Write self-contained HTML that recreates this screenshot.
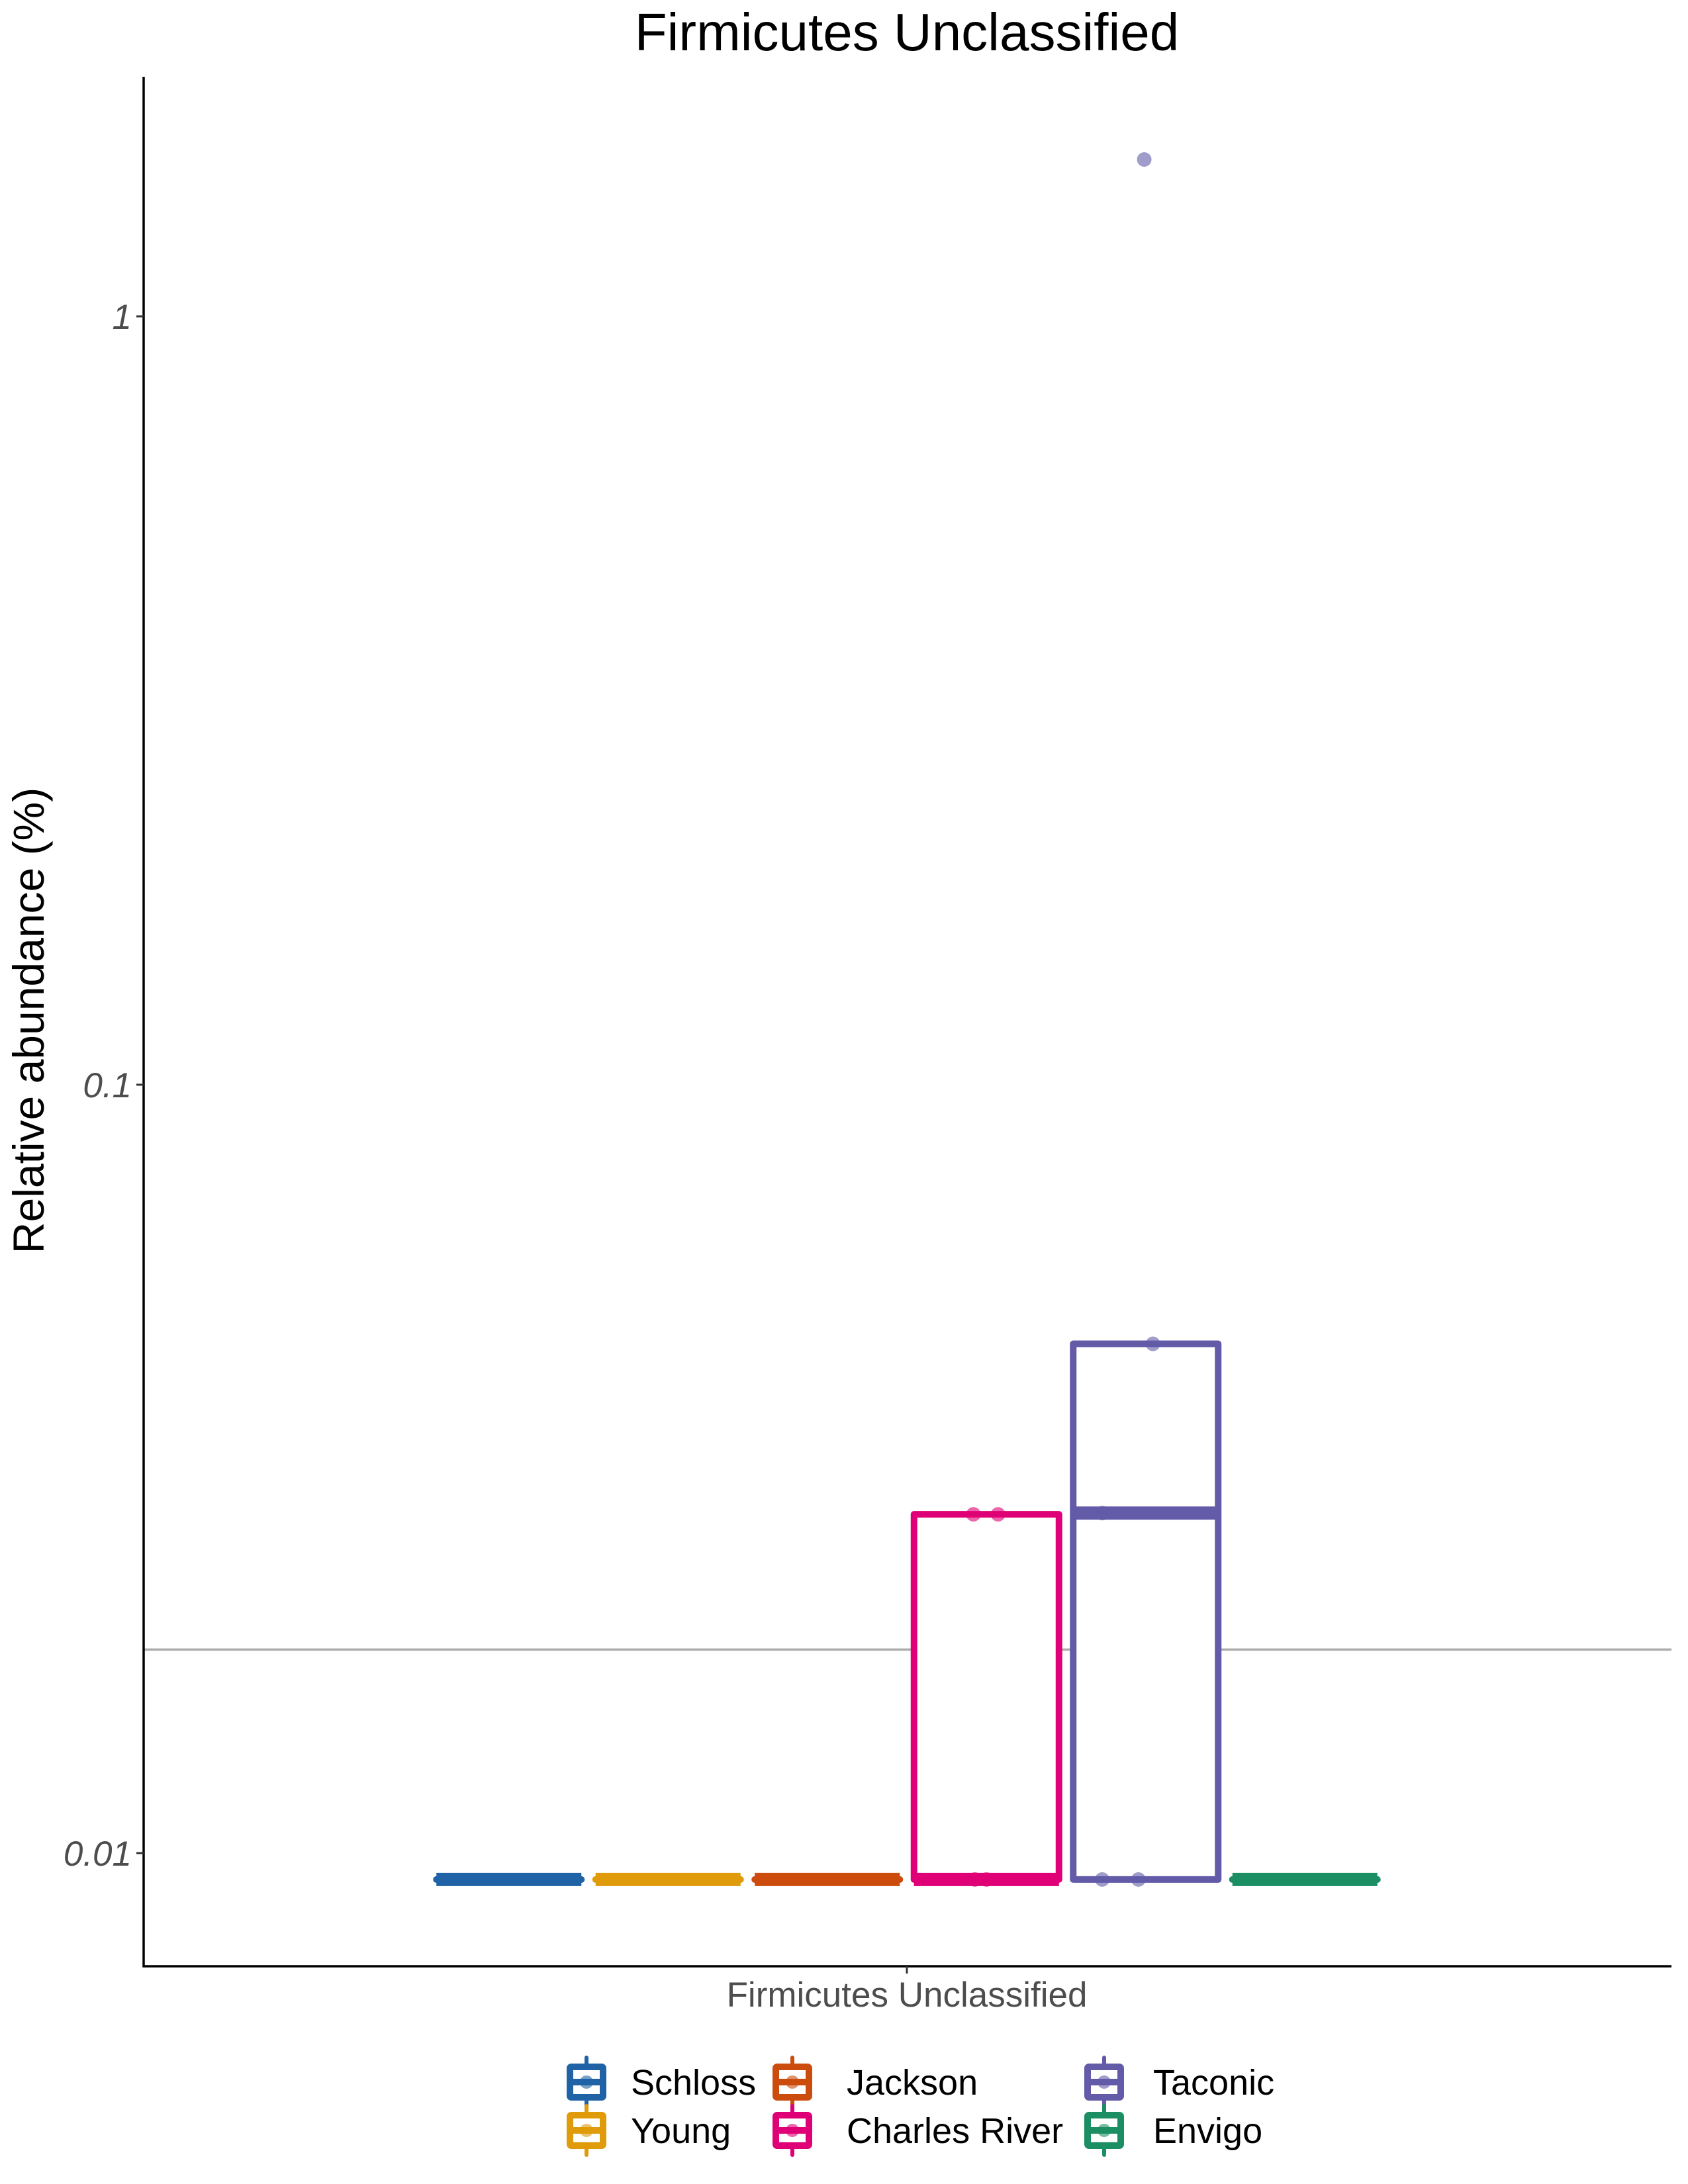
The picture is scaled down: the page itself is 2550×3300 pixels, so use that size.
<!DOCTYPE html>
<html><head><meta charset="utf-8"><style>
html,body{margin:0;padding:0;background:#fff}
svg{display:block}
text{font-family:"Liberation Sans",Arial,sans-serif}
</style></head><body>
<svg id="chart" width="2550" height="3300" viewBox="0 0 2550 3300" xmlns="http://www.w3.org/2000/svg">
<rect width="2550" height="3300" fill="#fff"/>
<text x="1370" y="76" font-size="80" text-anchor="middle" fill="#000">Firmicutes Unclassified</text>
<text transform="translate(66,1542) rotate(-90)" font-size="66" text-anchor="middle" fill="#000">Relative abundance (%)</text>
<g id="plot"></g>
<g id="legend"></g>
</svg>
<script>
const groups = ["Schloss","Young","Jackson","Charles River","Taconic","Envigo"];
const colors = ["#1F63A6","#E09B0B","#CC4C0E","#DF0077","#635BA8","#1C8E63"];
const q1 = [0.00924,0.00924,0.00924,0.00924,0.00924,0.00924];
const medians = [0.00924,0.00924,0.00924,0.00924,0.0277,0.00924];
const q3 = [0.00924,0.00924,0.00924,0.0276,0.046,0.00924];
const ptGroup = [3,3,3,3,4,4,4,4,4];
const ptValue = [0.0276,0.0276,0.00924,0.00924,1.6,0.046,0.0277,0.00924,0.00924];
const ptJitter = [-0.09,0.08,-0.08,0.0,-0.01,0.05,-0.3,-0.3,-0.05];
const yTicks = [0.01,0.1,1];
const yTickLabels = ["0.01","0.1","1"];
const refLine = 0.0184;

(function(){
const NS="http://www.w3.org/2000/svg";
const plot=document.getElementById('plot');
const legend=document.getElementById('legend');
function mk(tag,attrs,parent){const e=document.createElementNS(NS,tag);for(const k in attrs)e.setAttribute(k,attrs[k]);parent.appendChild(e);return e;}
const yS=v=>2800-(Math.log10(v)+2)*1161;
const step=240.5, xc=i=>1370+(i-2.5)*step, bw=219;
const pLeft=217,pRight=2525,pTop=116,pBottom=2971;

let e=mk('line',{x1:pLeft,x2:pRight,y1:yS(refLine),y2:yS(refLine),stroke:'#aaaaaa','stroke-width':3.5},plot);



groups.forEach((g,i)=>{
  const x0=xc(i)-bw/2;
  const b=mk('rect',{x:x0,y:yS(q3[i]),width:bw,height:Math.max(0.1,yS(q1[i])-yS(q3[i])),fill:'#fff',stroke:colors[i],'stroke-width':10,'stroke-linejoin':'round'},plot);
  
  
  const m=mk('line',{x1:x0,x2:x0+bw,y1:yS(medians[i]),y2:yS(medians[i]),stroke:colors[i],'stroke-width':20},plot);
  
  
});
ptValue.forEach((v,k)=>{
  const gi=ptGroup[k];
  const c=mk('circle',{cx:xc(gi)+ptJitter[k]*bw,cy:yS(v),r:11,fill:colors[gi],'fill-opacity':0.6},plot);
  
  
});

e=mk('line',{x1:pLeft,x2:pLeft,y1:pTop,y2:pBottom+1.5,stroke:'#000','stroke-width':3.5},plot);


e=mk('line',{x1:pLeft-1.5,x2:pRight,y1:pBottom,y2:pBottom,stroke:'#000','stroke-width':3.5},plot);


yTicks.forEach((t,k)=>{
  const l=mk('line',{x1:pLeft-11,x2:pLeft,y1:yS(t),y2:yS(t),stroke:'#333','stroke-width':3},plot);
  
  
  const tx=mk('text',{x:pLeft-18,y:yS(t)+19,'font-size':53,'font-style':'italic','text-anchor':'end',fill:'#4d4d4d'},plot);
  tx.textContent=yTickLabels[k];
  
  
});
e=mk('line',{x1:1370,x2:1370,y1:pBottom,y2:pBottom+11,stroke:'#333','stroke-width':3},plot);


e=mk('text',{x:1370,y:3032,'font-size':53,'text-anchor':'middle',fill:'#4d4d4d'},plot);
e.textContent='Firmicutes Unclassified';



const keyX=[886,886,1197,1197,1668,1668], keyY=[3146,3219,3146,3219,3146,3219], txtX=[953,953,1279,1279,1742,1742];
groups.forEach((g,i)=>{
  const gg=mk('g',{},legend);
  
  
  const cx=keyX[i], cy=keyY[i];
  mk('line',{x1:cx,x2:cx,y1:cy-37,y2:cy+37,stroke:colors[i],'stroke-width':6,'stroke-linecap':'round'},gg);
  mk('rect',{x:cx-25,y:cy-23,width:50,height:46,fill:'#fff',stroke:colors[i],'stroke-width':10,rx:2},gg);
  mk('line',{x1:cx-25,x2:cx+25,y1:cy,y2:cy,stroke:colors[i],'stroke-width':10},gg);
  mk('circle',{cx:cx,cy:cy,r:10,fill:colors[i],'fill-opacity':0.6},gg);
  const t=mk('text',{x:txtX[i],y:cy+19,'font-size':54,fill:'#000'},gg);
  t.textContent=g;
});
})();
</script>
</body></html>
